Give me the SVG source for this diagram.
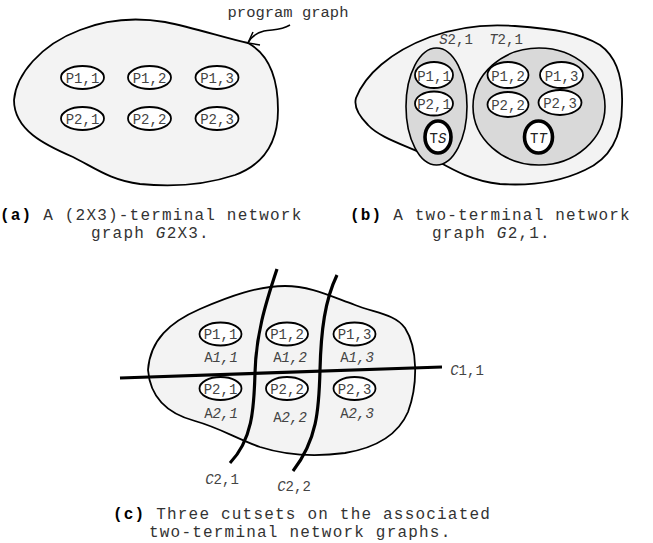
<svg xmlns="http://www.w3.org/2000/svg" width="653" height="543" viewBox="0 0 653 543">
  <style>
    .blob { fill: #f3f3f3; stroke: #000; stroke-width: 1.8; }
    .group { fill: #d9d9d9; stroke: #000; stroke-width: 1.6; }
    .node { fill: #fff; stroke: #000; stroke-width: 1.8; }
    .term { fill: #fff; stroke: #000; stroke-width: 3.6; }
    .cut { fill: none; stroke: #000; stroke-width: 3.2; stroke-linecap: butt; }
    .pointer { fill: none; stroke: #000; stroke-width: 1.5; }
    .lbl { font-family: "Liberation Mono", "DejaVu Sans Mono", monospace; font-size: 14px; fill: #444; text-anchor: middle; }
    .cap { font-family: "Liberation Mono", "DejaVu Sans Mono", monospace; font-size: 16px; letter-spacing: 1.2px; fill: #333; }
    .it { font-style: italic; }
    .b { font-weight: bold; fill: #000; }
  </style>

  <!-- (a) program graph with six process nodes -->
  <g id="graph-a">
    <path class="blob" d="M14,100 C16,75 40,45 80,30 C105,20 135,17 165,22 C195,28 225,38 248,43 C270,55 278,80 278,110 C278,145 262,165 235,175 C205,185 170,187 140,184 C110,180 95,168 73,157 C45,145 14,130 14,100 Z"/>
  </g>
  <g id="a-P11"><ellipse class="node" cx="82.5" cy="77.5" rx="21.5" ry="11.5"/><text class="lbl" x="82.5" y="82.5">P1,1</text></g>
  <g id="a-P12"><ellipse class="node" cx="149.5" cy="77.5" rx="21.5" ry="11.5"/><text class="lbl" x="149.5" y="82.5">P1,2</text></g>
  <g id="a-P13"><ellipse class="node" cx="217" cy="77.5" rx="21.5" ry="11.5"/><text class="lbl" x="217" y="82.5">P1,3</text></g>
  <g id="a-P21"><ellipse class="node" cx="82.5" cy="118.5" rx="21.5" ry="11.5"/><text class="lbl" x="82.5" y="123.5">P2,1</text></g>
  <g id="a-P22"><ellipse class="node" cx="149.5" cy="118.5" rx="21.5" ry="11.5"/><text class="lbl" x="149.5" y="123.5">P2,2</text></g>
  <g id="a-P23"><ellipse class="node" cx="217" cy="118.5" rx="21.5" ry="11.5"/><text class="lbl" x="217" y="123.5">P2,3</text></g>

  <!-- callout naming the program graph -->
  <g id="callout">
    <text class="lbl" x="288" y="17" style="font-size:15.5px;fill:#333">program graph</text>
  </g>

  <!-- (b) two-terminal network graph -->
  <g id="graph-b">
    <path class="blob" d="M356,98 C365,75 390,52 430,37 C460,26 490,24 515,26 C555,29 580,33 600,45 C618,58 623,80 622,105 C622,135 612,158 585,170 C560,182 530,186 500,184 C470,181 450,168 430,157 C405,145 380,138 368,125 C358,115 354,105 356,98 Z"/>
  </g>
  <g id="b-S21">
    <ellipse class="group" cx="436.5" cy="106.5" rx="30.5" ry="58.5"/>
    <text class="lbl" x="456" y="44"><tspan class="it">S</tspan>2,1</text>
  </g>
  <g id="b-T21">
    <ellipse class="group" cx="539" cy="106.5" rx="66" ry="58.5"/>
    <text class="lbl" x="506" y="44"><tspan class="it">T</tspan>2,1</text>
  </g>
  <g id="b-P11"><ellipse class="node" cx="434" cy="75" rx="19" ry="13"/><text class="lbl" x="434" y="80.5">P1,1</text></g>
  <g id="b-P21"><ellipse class="node" cx="434" cy="103.5" rx="19" ry="12"/><text class="lbl" x="434" y="109">P2,1</text></g>
  <g id="b-TS"><ellipse class="term" cx="438" cy="137" rx="13" ry="16"/><text class="lbl" x="438" y="142.5" style="fill:#222">T<tspan class="it">S</tspan></text></g>
  <g id="b-P12"><ellipse class="node" cx="508" cy="75" rx="20.5" ry="13"/><text class="lbl" x="508" y="80.5">P1,2</text></g>
  <g id="b-P13"><ellipse class="node" cx="561.5" cy="75" rx="21.5" ry="13"/><text class="lbl" x="561.5" y="80.5">P1,3</text></g>
  <g id="b-P22"><ellipse class="node" cx="508" cy="104.5" rx="20.5" ry="12.5"/><text class="lbl" x="508" y="110">P2,2</text></g>
  <g id="b-P23"><ellipse class="node" cx="560" cy="102.5" rx="21.5" ry="12.5"/><text class="lbl" x="560" y="108">P2,3</text></g>
  <g id="b-TT"><ellipse class="term" cx="538.5" cy="137" rx="14" ry="16"/><text class="lbl" x="538.5" y="142.5" style="fill:#222">T<tspan class="it">T</tspan></text></g>

  <!-- (c) graph split into areas by cutsets -->
  <g id="graph-c">
    <path class="blob" d="M148,370 C150,340 170,322 200,309 C230,296 258,286 285,286 C310,286 330,296 355,305 C375,313 395,314 405,328 C418,348 418,385 408,412 C398,435 375,448 345,453 C315,457 285,455 260,447 C235,438 220,428 195,421 C165,413 150,395 148,370 Z"/>
  </g>
  <g id="c-P11"><ellipse class="node" cx="220.5" cy="334" rx="21" ry="11.5"/><text class="lbl" x="220.5" y="339">P1,1</text><text class="lbl" x="221" y="362">A<tspan class="it">1,1</tspan></text></g>
  <g id="c-P12"><ellipse class="node" cx="287" cy="334" rx="21" ry="11.5"/><text class="lbl" x="287" y="339">P1,2</text><text class="lbl" x="290" y="362">A<tspan class="it">1,2</tspan></text></g>
  <g id="c-P13"><ellipse class="node" cx="354.5" cy="334" rx="21" ry="11.5"/><text class="lbl" x="354.5" y="339">P1,3</text><text class="lbl" x="357" y="362">A<tspan class="it">1,3</tspan></text></g>
  <g id="c-P21"><ellipse class="node" cx="220.5" cy="388.5" rx="21" ry="11.5"/><text class="lbl" x="220.5" y="393.5">P2,1</text><text class="lbl" x="221" y="418">A<tspan class="it">2,1</tspan></text></g>
  <g id="c-P22"><ellipse class="node" cx="287" cy="388.5" rx="21" ry="11.5"/><text class="lbl" x="287" y="393.5">P2,2</text><text class="lbl" x="290" y="422">A<tspan class="it">2,2</tspan></text></g>
  <g id="c-P23"><ellipse class="node" cx="354.5" cy="388.5" rx="21" ry="11.5"/><text class="lbl" x="354.5" y="393.5">P2,3</text><text class="lbl" x="357" y="418">A<tspan class="it">2,3</tspan></text></g>

  <!-- connectors: callout arrow and the three cut lines -->
  <g id="connectors">
    <path class="pointer" d="M290,25 C280,31 272,29 264,31 C256,33 251,37 248,43"/>
    <path class="pointer" d="M253,32 L248,43 L260,45"/>
    <path class="cut" d="M120,378 L442,367"/>
    <path class="cut" d="M277,269 C265,305 256,335 255,373 C254,410 252,440 230,463"/>
    <path class="cut" d="M337,275 C325,300 321,330 320,370 C319,410 317,440 293,471"/>
  </g>

  <!-- cut labels -->
  <g id="cut-labels">
    <text class="lbl" x="467" y="375"><tspan class="it">C</tspan>1,1</text>
    <text class="lbl" x="222" y="484"><tspan class="it">C</tspan>2,1</text>
    <text class="lbl" x="294" y="491"><tspan class="it">C</tspan>2,2</text>
  </g>

  <!-- captions -->
  <g id="captions">
    <text class="cap" x="0" y="219.5"><tspan class="b">(a)</tspan> A (2X3)-terminal network</text>
    <text class="cap" x="91" y="238">graph <tspan class="it">G</tspan>2X3.</text>
    <text class="cap" x="350" y="219.5"><tspan class="b">(b)</tspan> A two-terminal network</text>
    <text class="cap" x="432" y="238">graph <tspan class="it">G</tspan>2,1.</text>
    <text class="cap" x="113" y="518.5"><tspan class="b">(c)</tspan> Three cutsets on the associated</text>
    <text class="cap" x="149" y="537">two-terminal network graphs.</text>
  </g>
</svg>
